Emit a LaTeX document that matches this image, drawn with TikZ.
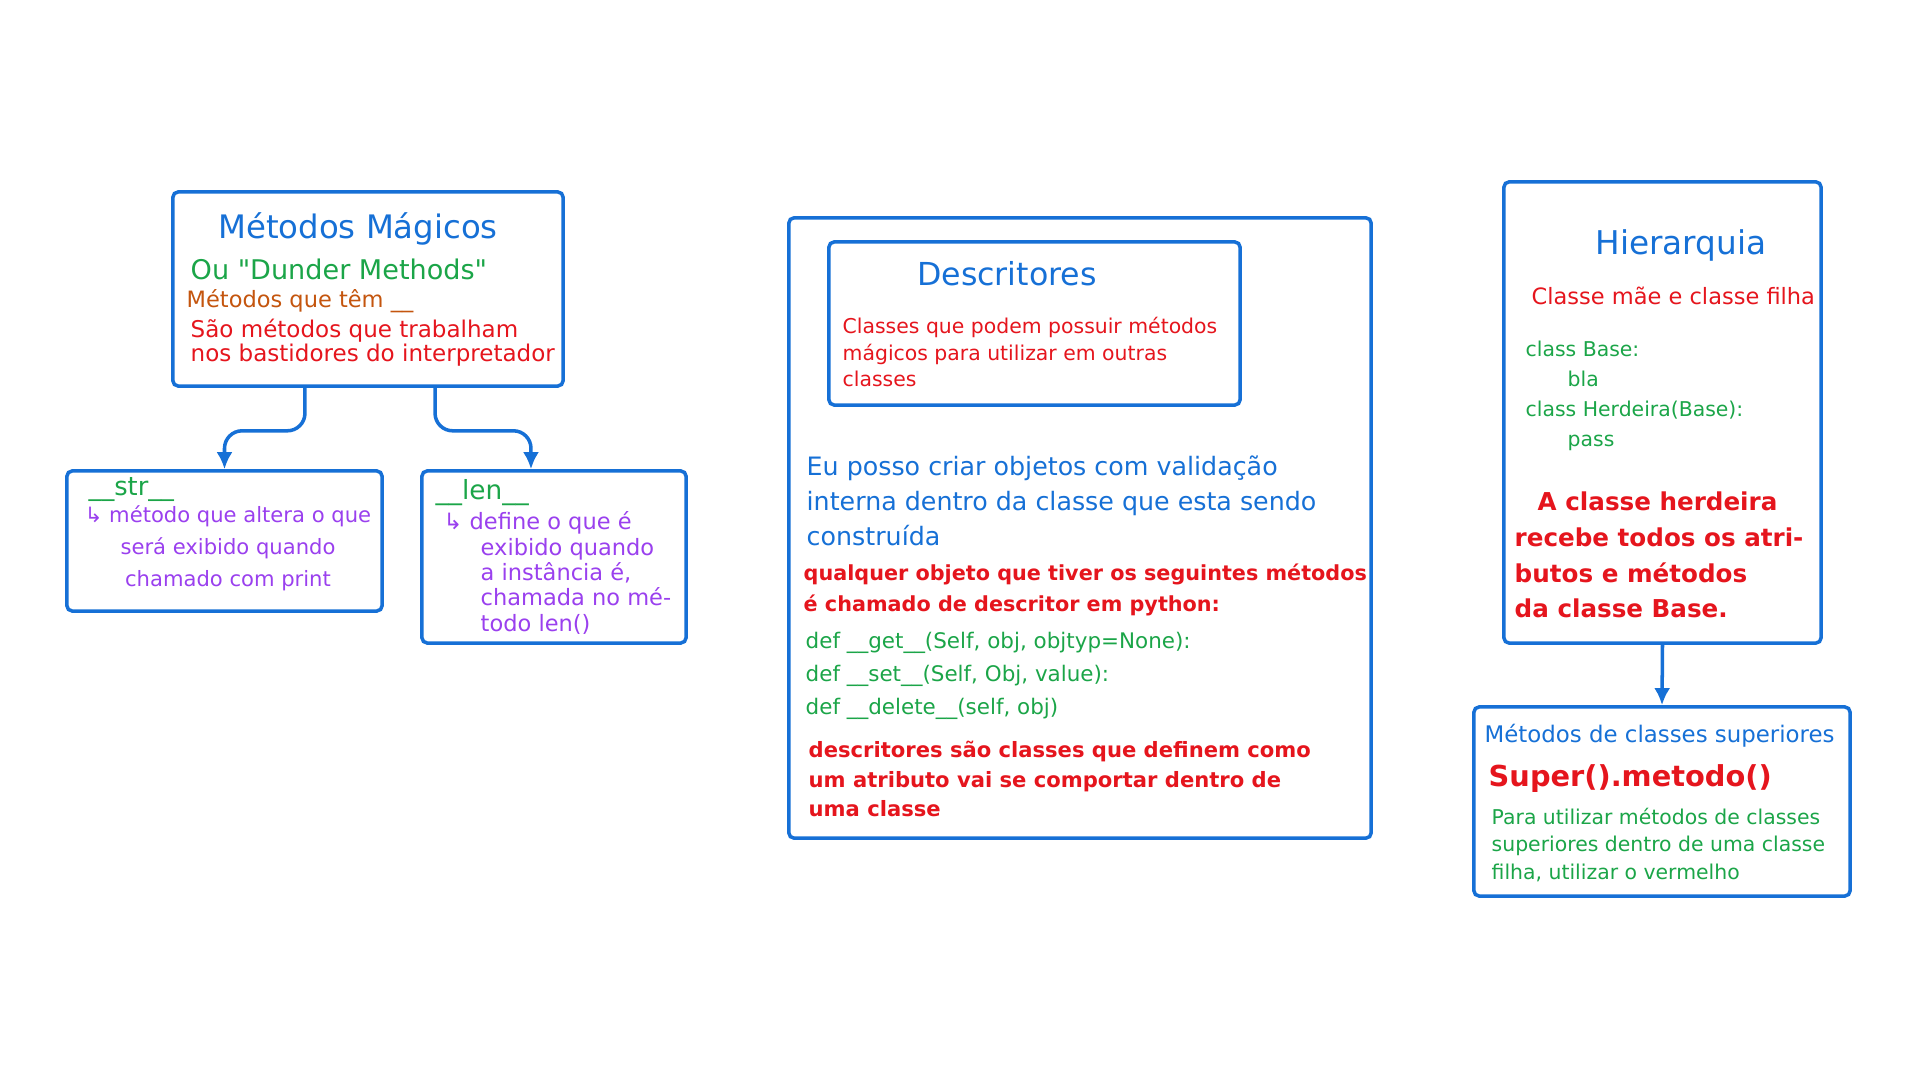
\documentclass[tikz,border=0pt]{standalone}
\usepackage{fontspec}
\setmainfont{DejaVu Sans}[Ligatures=TeXOff]
\usepackage{tikz}
\usetikzlibrary{arrows.meta,positioning,calc}
\definecolor{penblue}{HTML}{1670D6}
\definecolor{pengreen}{HTML}{1BA548}
\definecolor{penred}{HTML}{E5151D}
\definecolor{penorange}{HTML}{C4550E}
\definecolor{penpurple}{HTML}{9A40EE}
\newcommand{\penfont}[2]{\fontsize{#1}{#2}\selectfont}
\tikzset{
  frame/.style={draw=penblue,line width=1pt,rounded corners=1.5pt,inner sep=0pt},
  pen/.style={inner sep=0pt,align=left},
  penc/.style={inner sep=0pt,align=center},
  parr/.style={-{Latex[length=1.7mm,width=1.6mm]},line width=1pt,draw=penblue,rounded corners=5pt}
}

\begin{document}
\begin{tikzpicture}[x=0.01cm,y=-0.01cm]
  \useasboundingbox (0,0) rectangle (1920,1080);
  % panel A: metodos magicos
  \node[frame,minimum width=3.9cm,minimum height=1.94cm] (mmag) at (368,289) {};
  \node[frame,minimum width=3.15cm,minimum height=1.4cm] (mstr) at (224.5,541) {};
  \node[frame,minimum width=2.64cm,minimum height=1.72cm] (mlen) at (554,557) {};
  \node[penc,text=penblue,font=\penfont{9.2}{11}] (mtit) at (358,229) {Métodos Mágicos};
  \node[pen,text=pengreen,font=\penfont{7.7}{9},anchor=west] (mdun) at (190,269) {Ou "Dunder Methods"};
  \node[pen,text=penorange,font=\penfont{6.4}{8},anchor=west] (mtem) at (186,301) {Métodos que têm \_\_};
  \node[pen,text=penred,font=\penfont{6.55}{6.83},anchor=west] (msao) at (190,343) {São métodos que trabalham\\nos bastidores do interpretador};
  \node[pen,text=pengreen,font=\penfont{7.3}{8},anchor=west] (mstrt) at (88,490) {\_\_str\_\_};
  \node[penc,text=penpurple,font=\penfont{6}{9.1}] (mstrx) at (228,548) {↳ método que altera o que\\será exibido quando\\chamado com print};
  \node[pen,text=pengreen,font=\penfont{7.5}{9},anchor=west] (mlent) at (435,493) {\_\_len\_\_};
  \node[pen,text=penpurple,font=\penfont{6.4}{7.2},anchor=west] (mlenx) at (443,573) {↳ define o que é\\\hspace*{0.37cm}exibido quando\\\hspace*{0.37cm}a instância é,\\\hspace*{0.37cm}chamada no mé-\\\hspace*{0.37cm}todo len()};
  \draw[parr] ([xshift=-0.63cm]mmag.south) -- ++(0,43) -| (mstr.north);
  \draw[parr] ([xshift=0.67cm]mmag.south) -- ++(0,43) -| ([xshift=-0.23cm]mlen.north);
  % panel B: descritores
  \node[frame,minimum width=5.82cm,minimum height=6.2cm] (desc) at (1080,528) {};
  \node[frame,minimum width=4.11cm,minimum height=1.63cm] (descin) at (1034.5,323.5) {};
  \node[penc,text=penblue,font=\penfont{9}{11}] (dtit) at (1007,274) {Descritores};
  \node[pen,text=penred,font=\penfont{5.8}{7.4},anchor=west] (dcls) at (842,352) {Classes que podem possuir métodos\\mágicos para utilizar em outras\\classes};
  \node[pen,text=penblue,font=\penfont{7.2}{10},anchor=west] (dval) at (806,501) {Eu posso criar objetos com validação\\interna dentro da classe que esta sendo\\construída};
  \node[pen,text=penred,font=\bfseries\penfont{5.9}{8.8},anchor=west] (dqual) at (803,589.5) {qualquer objeto que tiver os seguintes métodos\\é chamado de descritor em python:};
  \node[pen,text=pengreen,font=\penfont{6.1}{9.4},anchor=west] (ddef) at (805,676) {def \_\_get\_\_(Self, obj, objtyp=None):\\def \_\_set\_\_(Self, Obj, value):\\def \_\_delete\_\_(self, obj)};
  \node[pen,text=penred,font=\bfseries\penfont{6}{8.5},anchor=west] (dfim) at (808,779) {descritores são classes que definem como\\um atributo vai se comportar dentro de\\uma classe};
  % panel C: hierarquia
  \node[frame,minimum width=3.17cm,minimum height=4.61cm] (hier) at (1662.5,412.5) {};
  \node[frame,minimum width=3.76cm,minimum height=1.89cm] (sup) at (1662,801.5) {};
  \node[penc,text=penblue,font=\penfont{9.3}{11}] (htit) at (1681,245) {Hierarquia};
  \node[pen,text=penred,font=\penfont{6.4}{7},anchor=west] (hmae) at (1531,296) {Classe mãe e classe filha};
  \node[pen,text=pengreen,font=\penfont{5.8}{8.5},anchor=west] (hcode) at (1525,396) {class Base:\\\hspace*{0.42cm}bla\\class Herdeira(Base):\\\hspace*{0.42cm}pass};
  \node[pen,text=penred,font=\bfseries\penfont{7}{10.2},anchor=west] (hher) at (1514,555) {\hspace*{0.23cm}A classe herdeira\\recebe todos os atri-\\butos e métodos\\da classe Base.};
  \draw[parr] (hier.south) -- (sup.north);
  \node[pen,text=penblue,font=\penfont{6.5}{8},anchor=west] (stit) at (1484,736) {Métodos de classes superiores};
  \node[pen,text=penred,font=\bfseries\penfont{8.2}{10},anchor=west] (scall) at (1488,779) {Super().metodo()};
  \node[pen,text=pengreen,font=\penfont{5.8}{7.7},anchor=west] (suse) at (1491,845) {Para utilizar métodos de classes\\superiores dentro de uma classe\\filha, utilizar o vermelho};
\end{tikzpicture}
\end{document}
